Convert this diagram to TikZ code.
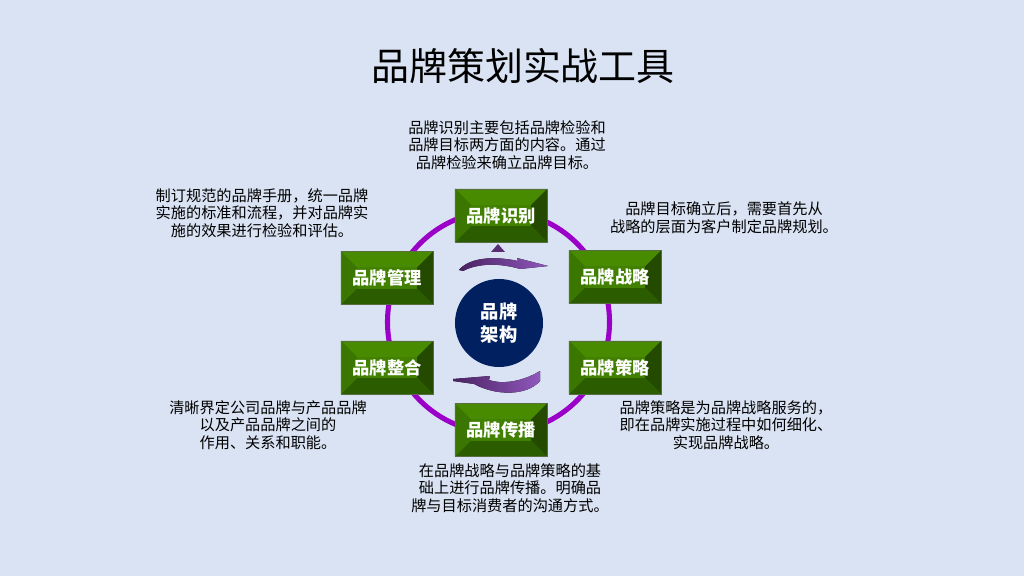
\documentclass[tikz,border=0pt]{standalone}
\usepackage{fontspec}
\setmainfont{Noto Sans CJK SC}
\usepackage{tikz}
\usetikzlibrary{positioning}
\definecolor{pbg}{HTML}{DAE3F3}
\definecolor{pring}{HTML}{9A00C8}
\definecolor{pnavy}{HTML}{002060}
\definecolor{gtop}{HTML}{488A00}
\definecolor{gmid}{HTML}{418000}
\definecolor{gleft}{HTML}{3A7600}
\definecolor{gright}{HTML}{244A00}
\definecolor{gbot}{HTML}{2C5C00}
\definecolor{parr}{HTML}{4A2262}
\definecolor{parrl}{HTML}{8F58BC}

\begin{document}
\begin{tikzpicture}[x=0.025cm,y=-0.025cm,
  txt/.style={align=center,inner sep=0pt,text=black,
              font=\fontsize{10.8}{12.5}\selectfont},
  g/.style={fill=gmid,draw=gray!50!gbot,line width=0.3pt,
            minimum width=2.3cm,minimum height=1.325cm,inner sep=0pt,
            text=white,font=\fontsize{12.3}{14}\selectfont\bfseries,
            path picture={
              \path (path picture bounding box.north west) coordinate (pw)
                    (path picture bounding box.south east) coordinate (pe);
              \fill[gtop] (pw) -- (pw -| pe) -- ([shift={(-4mm,-4mm)}]pw -| pe)
                -- ([shift={(4mm,-4mm)}]pw) -- cycle;
              \fill[gright] (pw -| pe) -- (pe) -- ([shift={(-4mm,4mm)}]pe)
                -- ([shift={(-4mm,-4mm)}]pw -| pe) -- cycle;
              \fill[gbot] (pe) -- (pe -| pw) -- ([shift={(4mm,4mm)}]pe -| pw)
                -- ([shift={(-4mm,4mm)}]pe) -- cycle;
              \fill[gleft] (pe -| pw) -- (pw) -- ([shift={(4mm,-4mm)}]pw)
                -- ([shift={(4mm,4mm)}]pe -| pw) -- cycle;
              \fill[gmid] ([shift={(4mm,-4mm)}]pw) rectangle ([shift={(-4mm,4mm)}]pe);
            }},
  hub/.style={circle,fill=pnavy,minimum size=2.2cm,inner sep=0pt,align=center,
              text=white,font=\fontsize{13}{16.5}\selectfont\bfseries},
  sw/.style={left color=parr,right color=parrl,draw=none}]

\fill[pbg] (0,0) rectangle (1024,576);
\useasboundingbox (0,0) rectangle (1024,576);

\node[font=\fontsize{27}{32}\selectfont] (title) at (523,66) {品牌策划实战工具};

% ring behind the six steps
\coordinate (ctr) at (498.5,322);
\draw[pring,line width=3.6pt] (ctr) circle[radius=2.775cm];

\node[g] (sb) at (501,215.5) {品牌识别};
\node[g] (zl) at (615,277)   {品牌战略};
\node[g] (cl) at (615,367.5) {品牌策略};
\node[g] (cb) at (501,430)   {品牌传播};
\node[g] (zh) at (387,367.5) {品牌整合};
\node[g] (gl) at (387,278)   {品牌管理};

\node[hub] (jg) at (499,323) {品牌\\架构};

% swooshes round the hub
\fill[sw] (459,270) .. controls (468,259) and (490,255) .. (518,261)
  -- (517,258) -- (548,266) -- (520,269)
  .. controls (500,263) and (478,263) .. (463,271) -- cycle;
\fill[parr!80!parrl] (491,252) -- (505,252) -- (498,244) -- cycle;
\fill[sw] (453,379) -- (490,376) -- (489,380)
  .. controls (500,384) and (520,383) .. (540,371)
  -- (540,381) .. controls (527,396) and (496,396) .. (474,384)
  -- (453,381) -- cycle;

\node[txt] (t1) at (507,145) {品牌识别主要包括品牌检验和\\品牌目标两方面的内容。通过\\品牌检验来确立品牌目标。};
\node[txt] (t2) at (262,213) {制订规范的品牌手册，统一品牌\\实施的标准和流程，并对品牌实\\施的效果进行检验和评估。};
\node[txt] (t3) at (724,218) {品牌目标确立后，需要首先从\\战略的层面为客户制定品牌规划。};
\node[txt] (t4) at (268,425) {清晰界定公司品牌与产品品牌\\以及产品品牌之间的\\作用、关系和职能。};
\node[txt] (t5) at (726,425) {品牌策略是为品牌战略服务的，\\即在品牌实施过程中如何细化、\\实现品牌战略。};
\node[txt] (t6) at (510,488) {在品牌战略与品牌策略的基\\础上进行品牌传播。明确品\\牌与目标消费者的沟通方式。};
\end{tikzpicture}
\end{document}
